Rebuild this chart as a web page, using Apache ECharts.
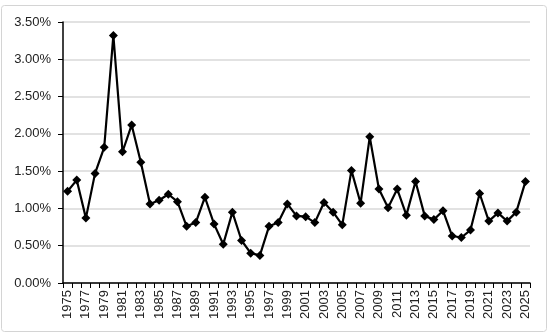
<!DOCTYPE html>
<html>
<head>
<meta charset="utf-8">
<script src="https://cdn.jsdelivr.net/npm/echarts@6/dist/echarts.min.js"></script>
<style>
  html, body { margin: 0; padding: 0; background: #fff; }
  #chart { width: 550px; height: 336px; }
</style>
</head>
<body>
<div id="chart"></div>
<script>
// years on the category axis
const years = []
for (let y = 1975; y <= 2025; y++) years.push(String(y))

// values in percent
const rates = [
  1.23, 1.38, 0.87, 1.47, 1.82, 3.32, 1.76, 2.12, 1.62, 1.06,
  1.11, 1.19, 1.09, 0.76, 0.81, 1.15, 0.79, 0.52, 0.95, 0.57,
  0.40, 0.37, 0.76, 0.81, 1.06, 0.90, 0.89, 0.81, 1.08, 0.95,
  0.78, 1.51, 1.07, 1.96, 1.26, 1.01, 1.26, 0.91, 1.36, 0.90,
  0.85, 0.97, 0.63, 0.61, 0.71, 1.20, 0.83, 0.94, 0.83, 0.95,
  1.36
]

const chart = echarts.init(document.getElementById('chart'), null, { renderer: 'canvas' })
chart.setOption({
  animation: false,
  textStyle: { fontFamily: 'Liberation Sans, Arial, sans-serif' },
  graphic: [{
    type: 'rect',
    shape: { x: 1.5, y: 5.5, width: 545, height: 326, r: 3 },
    style: { fill: 'none', stroke: '#d4d4d4', lineWidth: 1 },
    silent: true
  }],
  grid: { left: 63, right: 20, top: 22, bottom: 53 },
  xAxis: {
    type: 'category',
    data: years,
    boundaryGap: true,
    axisLine: { lineStyle: { color: '#000', width: 1.5 } },
    axisTick: { show: true, interval: 0, length: 5, lineStyle: { color: '#000' } },
    axisLabel: {
      interval: 1,
      rotate: 90,
      color: '#222',
      fontSize: 13,
      margin: 7
    },
    splitLine: { show: false }
  },
  yAxis: {
    type: 'value',
    min: 0,
    max: 3.5,
    interval: 0.5,
    axisLine: { show: true, lineStyle: { color: '#000', width: 1.5 } },
    axisTick: { show: true, length: 5, lineStyle: { color: '#000' } },
    axisLabel: {
      color: '#222',
      fontSize: 13,
      margin: 12,
      formatter: v => v.toFixed(2) + '%'
    },
    splitLine: { lineStyle: { color: '#d9d9d9', width: 1.5 } }
  },
  series: [{
    type: 'line',
    data: rates,
    symbol: 'diamond',
    symbolSize: 9,
    showAllSymbol: true,
    itemStyle: { color: '#000' },
    lineStyle: { color: '#000', width: 2.2 }
  }]
})
</script>
</body>
</html>
